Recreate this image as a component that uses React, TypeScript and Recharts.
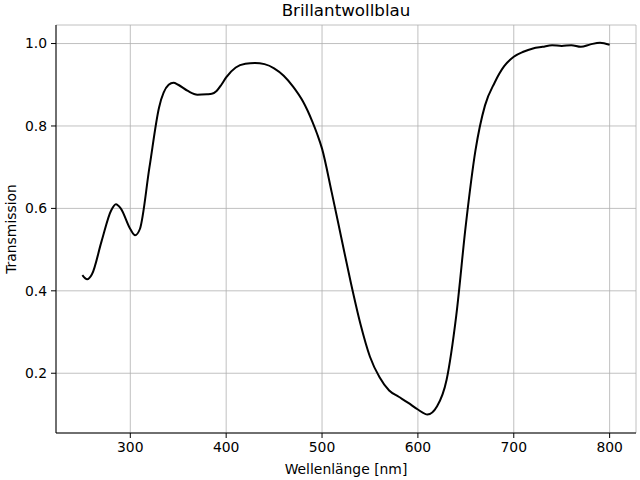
import React from "react"
import {
  LineChart,
  Line,
  XAxis,
  YAxis,
  CartesianGrid,
} from "recharts"

// wavelength in nm and transmission
const wavelengths = [
  250, 255, 260, 270, 280, 285, 290, 300, 305, 310, 320, 330, 340, 345, 350,
  360, 370, 380, 385, 390, 395, 400, 410, 420, 430, 440, 450, 460, 470, 480,
  485, 490, 495, 500, 510, 520, 530, 540, 550, 560, 570, 580, 590, 600, 610,
  620, 630, 640, 650, 660, 670, 680, 690, 700, 710, 720, 730, 740, 750, 760,
  770, 780, 790, 800,
]
const transmission = [
  0.438, 0.428, 0.44, 0.52, 0.595, 0.61, 0.6, 0.55, 0.535, 0.55, 0.7, 0.845,
  0.9, 0.905, 0.9, 0.885, 0.876, 0.877, 0.878, 0.885, 0.9, 0.918, 0.942, 0.951,
  0.953, 0.95, 0.94, 0.922, 0.895, 0.86, 0.837, 0.81, 0.78, 0.745, 0.64, 0.53,
  0.42, 0.32, 0.24, 0.19, 0.158, 0.143, 0.128, 0.112, 0.1, 0.12, 0.185, 0.34,
  0.56, 0.74, 0.85, 0.905, 0.945, 0.968, 0.98, 0.988, 0.992, 0.996, 0.994,
  0.996, 0.992, 0.998, 1.002, 0.997,
]
const xTicks = [300, 400, 500, 600, 700, 800]
const yTicks = [0.2, 0.4, 0.6, 0.8, 1.0]

const data = wavelengths.map((w, i) => ({ w, t: transmission[i] }))

const FONT = "'DejaVu Sans', sans-serif"
const tickStyle = { fill: "#000", fontSize: 13.9, fontFamily: FONT }

export default function App() {
  return (
    <div style={{ position: "fixed", left: 0, top: 0, width: 640, height: 480, background: "#fff" }}>
      <div
        style={{
          position: "absolute",
          left: 56,
          width: 580,
          top: 0,
          textAlign: "center",
          fontFamily: FONT,
          fontSize: 16.7,
          color: "#000",
        }}
      >
        Brillantwollblau
      </div>
      <LineChart
        width={640}
        height={480}
        data={data}
        margin={{ top: 25, right: 4, bottom: 0, left: 0 }}
      >
        <CartesianGrid stroke="#b0b0b0" strokeWidth={0.8} />
        <XAxis
          dataKey="w"
          type="number"
          domain={[222.5, 827.5]}
          ticks={xTicks}
          allowDataOverflow
          height={47}
          tick={tickStyle}
          tickSize={5}
          tickMargin={4}
          stroke="#000"
          label={{
            value: "Wellenlänge [nm]",
            position: "insideBottom",
            offset: 6,
            fill: "#000",
            style: { fill: "#000", fontSize: 13.9, fontFamily: FONT },
          }}
        />
        <XAxis
          xAxisId="top"
          dataKey="w"
          type="number"
          domain={[222.5, 827.5]}
          orientation="top"
          height={0}
          tick={false}
          tickLine={false}
          stroke="#000"
        />
        <YAxis
          type="number"
          domain={[0.055, 1.045]}
          ticks={yTicks}
          allowDataOverflow
          width={56}
          tick={tickStyle}
          tickSize={5}
          tickMargin={4}
          tickFormatter={(v: number) => v.toFixed(1)}
          stroke="#000"
          label={{
            value: "Transmission",
            angle: -90,
            position: "insideLeft",
            offset: 11,
            fill: "#000",
            style: { fill: "#000", fontSize: 13.9, fontFamily: FONT, textAnchor: "middle" },
          }}
        />
        <YAxis
          yAxisId="right"
          orientation="right"
          domain={[0.055, 1.045]}
          width={0}
          tick={false}
          tickLine={false}
          stroke="#000"
        />
        <Line
          type="monotone"
          dataKey="t"
          stroke="#000"
          strokeWidth={2}
          dot={false}
          isAnimationActive={false}
        />
      </LineChart>
    </div>
  )
}
